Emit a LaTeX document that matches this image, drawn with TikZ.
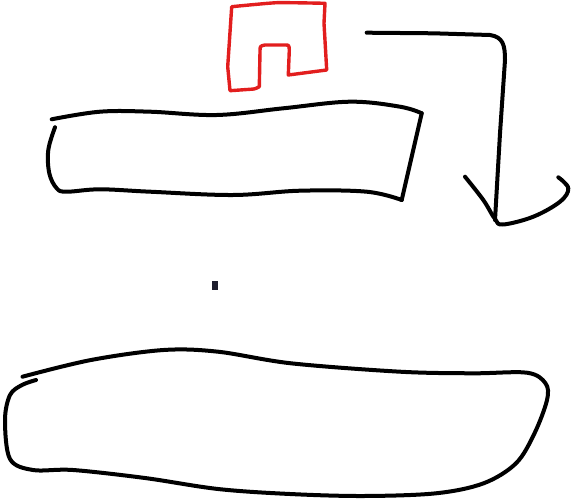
\documentclass[tikz,border=0pt]{standalone}
\begin{document}
\begin{tikzpicture}[x=1pt,y=-1pt,
  ink/.style={line width=4pt,line cap=round,line join=round,black},
  redink/.style={line width=3.4pt,line cap=round,line join=round,draw={rgb,255:red,226;green,30;blue,30}}]
\useasboundingbox (0,0) rectangle (572,500);
% red shape
\draw[redink] plot[smooth,tension=0.3] coordinates {(231.7,6.7) (276.7,2.7) (325,3.3)}
  -- (324,23.3) -- (326.7,70) -- (288.3,75) -- (289.3,50)
  .. controls (289,45) .. (285,45) -- (265,45) .. controls (260,46) .. (260,51.7)
  -- (259.3,86.7) .. controls (255,89) .. (250,89.3) -- (230,90.7) -- (227.7,66.7) -- (231.7,6.7);
% arrow
\draw[ink] (366.7,32.7) -- (433.3,33.3) -- (490,35) .. controls (503,37) and (505,45) .. (505,60)
  -- (500,133.3) -- (495,220);
\draw[ink] plot[smooth,tension=0.6] coordinates {(465,176.7) (483.3,200) (495,219) (503,224.5) (533.3,216.7) (560,201.7) (568.3,188.3) (558.3,177.3)};
% upper rectangle
\draw[ink] plot[smooth,tension=0.6] coordinates {(51.7,119.3) (100,111.7) (150,111.7) (216.7,115) (283.3,108.3) (350,101.7) (400,106.7) (421.7,113.3)};
\draw[ink] (421.7,113.3) -- (401.7,200);
\draw[ink] plot[smooth,tension=0.6] coordinates {(401.7,200) (366.7,191.7) (300,190.7) (233,195) (150,191.7) (100,189.3) (66.7,191.7) (56.7,188.3) (49.3,173.3) (48.3,150) (55,127.3)};
% dot
\fill[fill={rgb,255:red,30;green,30;blue,46}] (212,281) rectangle (218,290);
% lower shape
\draw[ink] plot[smooth,tension=0.55] coordinates {(22.5,376.7) (91,360) (163.6,350) (218,351.7) (291,363.3) (400,371.7) (472.7,373.3) (527,372.7) (545.5,383.3) (547,400) (534.5,433.3) (516,463.3) (483.6,483.3) (436,493.3) (363.6,496) (290,494) (218,489) (145,478) (73,470) (33,470) (10,459) (5,420) (10,395) (22,385) (36,380)};
\end{tikzpicture}
\end{document}
